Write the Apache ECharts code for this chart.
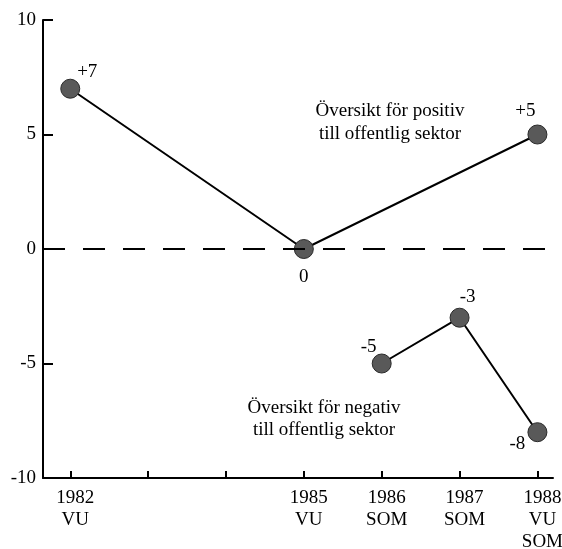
<!DOCTYPE html>
<html>
<head>
<meta charset="utf-8">
<script src="https://cdn.jsdelivr.net/npm/echarts@6/dist/echarts.min.js"></script>
<style>html,body{margin:0;padding:0;background:#fff}#c{width:562px;height:549px}</style>
</head>
<body>
<div id="c"></div>
<script>
// ---- data ----
const years = [1982, 1983, 1984, 1985, 1986, 1987, 1988];
const labelYears = [1982, 1985, 1986, 1987, 1988];
const labelSub = {1982: 'VU', 1985: 'VU', 1986: 'SOM', 1987: 'SOM', 1988: 'VU\nSOM'};
const posYears = [1982, 1985, 1988];
const posValues = [7, 0, 5];
const posLabels = ['+7', '0', '+5'];
const negYears = [1986, 1987, 1988];
const negValues = [-5, -3, -8];
const negLabels = ['-5', '-3', '-8'];
const yTicks = [-10, -5, 0, 5, 10];
const posText = ['Översikt för positiv', 'till offentlig sektor'];
const negText = ['Översikt för negativ', 'till offentlig sektor'];

const font = 'Liberation Serif, Times New Roman, serif';
const chart = echarts.init(document.getElementById('c'), null, {renderer: 'canvas'});

const posLabelCfg = [
  {position: 'top', offset: [17, 8]},
  {position: 'bottom', offset: [0, 4]},
  {position: 'top', offset: [-12, 1]}
];
const negLabelCfg = [
  {position: 'top', offset: [-13, 8]},
  {position: 'top', offset: [8, 4]},
  {position: 'bottom', offset: [-20, -13]}
];

function mk(xs, vs, ls, cfg) {
  return xs.map((x, i) => ({
    value: [x, vs[i]],
    label: Object.assign({show: true, formatter: ls[i]}, cfg[i])
  }));
}

const markerStyle = {color: '#595959', borderColor: '#2a2a2a', borderWidth: 1};
const labelStyle = {color: '#000', fontFamily: font, fontSize: 19};

chart.setOption({
  animation: false,
  backgroundColor: '#fff',
  grid: {left: 43, right: 9, top: 20, bottom: 71, outerBoundsMode: 'none', containLabel: false},
  xAxis: {
    type: 'value',
    min: 1981.65,
    max: 1988.2,
    splitLine: {show: false},
    axisLine: {show: true, onZero: false, lineStyle: {color: '#000', width: 2}},
    axisTick: {show: true, inside: true, length: 7, customValues: years, lineStyle: {color: '#000', width: 2}},
    axisLabel: {
      show: true,
      customValues: labelYears,
      formatter: v => {
        const y = Math.round(v);
        return y + '\n' + labelSub[y];
      },
      color: '#000', fontFamily: font, fontSize: 19, lineHeight: 22, margin: 9,
      padding: [0, 0, 0, 10],
      hideOverlap: false
    }
  },
  yAxis: {
    type: 'value',
    min: -10, max: 10, interval: 5,
    splitLine: {show: false},
    axisLine: {show: true, lineStyle: {color: '#000', width: 2}},
    axisTick: {show: true, inside: true, length: 10, lineStyle: {color: '#000', width: 2}},
    axisLabel: {color: '#000', fontFamily: font, fontSize: 19, margin: 7,
      formatter: v => yTicks.includes(v) ? String(v) : ''}
  },
  graphic: [
    {type: 'text', x: 390, y: 100, style: {text: posText.join('\n'), font: '19px ' + font, fill: '#000', align: 'center', lineHeight: 23}},
    {type: 'text', x: 324, y: 397, style: {text: negText.join('\n'), font: '19px ' + font, fill: '#000', align: 'center', lineHeight: 22}}
  ],
  series: [
    {
      type: 'line',
      data: mk(posYears, posValues, posLabels, posLabelCfg),
      symbol: 'circle', symbolSize: 19,
      lineStyle: {color: '#000', width: 2},
      itemStyle: markerStyle,
      label: labelStyle,
      z: 3,
      markLine: {
        silent: true, symbol: 'none', label: {show: false},
        lineStyle: {color: '#000', width: 2, type: [22, 18]},
        data: [{yAxis: 0}]
      }
    },
    {
      type: 'line',
      data: mk(negYears, negValues, negLabels, negLabelCfg),
      symbol: 'circle', symbolSize: 19,
      lineStyle: {color: '#000', width: 2},
      itemStyle: markerStyle,
      label: labelStyle,
      z: 3
    }
  ]
});
</script>
</body>
</html>
